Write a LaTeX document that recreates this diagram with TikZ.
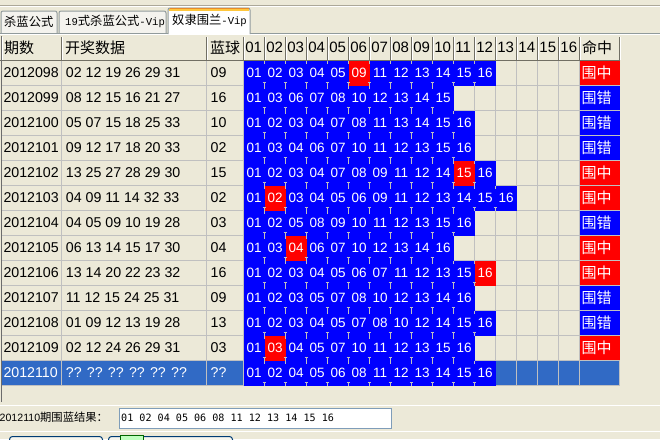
\documentclass[tikz,border=0pt]{standalone}
\usepackage{fontspec}
\setmainfont{Liberation Sans}
\newfontfamily\cjk{Noto Sans CJK SC}
\newfontfamily\monof{DejaVu Sans Mono}
\newfontfamily\courf{Liberation Mono}
\definecolor{bg}{HTML}{ECE9D8}
\definecolor{gridc}{HTML}{C0C0C0}
\definecolor{bluec}{HTML}{0000FF}
\definecolor{redc}{HTML}{FF0000}
\definecolor{selc}{HTML}{316AC5}
\definecolor{tabborder}{HTML}{919B9C}
\definecolor{tabfill}{HTML}{F4F3EE}
\definecolor{orange1}{HTML}{E68B2C}
\definecolor{orange2}{HTML}{FFC73C}
\definecolor{hdrdark}{HTML}{716F64}
\definecolor{etch}{HTML}{ACA899}
\definecolor{boxborder}{HTML}{7F9DB9}
\definecolor{btnborder}{HTML}{003C74}
\begin{document}
\begin{tikzpicture}[x=1pt,y=-1pt,
  txt/.style={inner sep=0pt,anchor=west,font=\fontsize{14.2}{16}\selectfont},
  balltxt/.style={inner sep=0pt,text=white,font=\fontsize{13.5}{15}\selectfont},
  hdrtxt/.style={inner sep=0pt,anchor=west,font=\fontsize{15}{17}\selectfont},
  hdrcjk/.style={inner sep=0pt,anchor=west,font=\cjk\fontsize{15}{17}\selectfont},
  rescjk/.style={inner sep=0pt,anchor=west,text=white,font=\cjk\fontsize{15}{17}\selectfont},
  tabtxt/.style={inner sep=0pt,anchor=west,font=\cjk\fontsize{12.3}{14}\selectfont},
  gridline/.style={draw=gridc,line width=1pt},
  tickline/.style={draw=gridc,line width=1pt},
  tabshape/.style={draw=tabborder,line width=1pt,rounded corners=2pt},
]
\useasboundingbox (0,0) rectangle (660,439);
\fill[bg] (0,0) rectangle (660,439);
% top etched line
\draw[etch,line width=1pt] (0,5.5) -- (660,5.5);
\draw[white,line width=1pt] (0,6.5) -- (660,6.5);
% tabs
\draw[tabshape,fill=tabfill] (1,33) -- (1,11) -- (57,11) -- (57,33);
\draw[tabshape,fill=tabfill] (59,33) -- (59,11) -- (166,11) -- (166,33);
\draw[tabborder,line width=1pt] (0,33.5) -- (168,33.5);
\draw[tabborder,line width=1pt] (250,33.5) -- (660,33.5);
\draw[white,line width=1pt] (0,34.5) -- (660,34.5);
\draw[tabshape,fill=white] (168,34) -- (168,8) -- (250,8) -- (250,34);
\draw[orange1,line width=1pt] (169.5,8.5) -- (248.5,8.5);
\draw[orange2,line width=1.6pt] (169,10.2) -- (249,10.2);
\node[tabtxt] (tab1) at (4,21.5) {杀蓝公式};
\node[tabtxt] (tab2) at (65,21.5) {{\courf\fontsize{10.6}{12}\selectfont 19}式杀蓝公式{\courf\fontsize{10.6}{12}\selectfont -Vip}};
\node[tabtxt] (tab3) at (172,20.8) {奴隶围兰{\courf\fontsize{10.6}{12}\selectfont -Vip}};
% header
\foreach \b in {62,207,243.7,264.7,285.7,306.7,327.7,348.7,369.7,390.7,411.7,432.7,453.7,474.7,495.7,516.7,537.7,558.7,579.7,620}{
  \draw[hdrdark,line width=1pt] (\b-0.5,37) -- (\b-0.5,60);
  \draw[white,line width=1pt] (\b+0.5,37) -- (\b+0.5,60);
}
\draw[white,line width=1pt] (2.5,37) -- (2.5,60);
\draw[hdrdark,line width=1pt] (0,60.5) -- (620,60.5);
\node[hdrcjk] (h1) at (4,48) {期数};
\node[hdrcjk] (h2) at (65,48) {开奖数据};
\node[hdrcjk] (h3) at (210,48) {蓝球};
\foreach \k [count=\i from 0] in {01,02,03,04,05,06,07,08,09,10,11,12,13,14,15,16}{
  \pgfmathsetmacro\hx{243.7+21*\i+1.5}
  \node[hdrtxt] (hc\k) at (\hx,47.5) {\k};
}
\node[hdrcjk] (h4) at (582,48) {命中};
% selected row fill
\fill[selc] (2,361) rectangle (620,386);
% grid
\foreach \b in {62,207,243.7,264.7,285.7,306.7,327.7,348.7,369.7,390.7,411.7,432.7,453.7,474.7,495.7,516.7,537.7,558.7,579.7,620}{
  \draw[gridline] (\b-0.5,61) -- (\b-0.5,386);
}
\foreach \r in {1,...,13}{
  \pgfmathsetmacro\gy{61+25*\r-0.5}
  \draw[gridline] (2,\gy) -- (620,\gy);
}
% rows
\foreach \id/\dr/\bl/\balls/\red/\hit [count=\r from 0] in {
 2012098/{02 12 19 26 29 31}/09/{01,02,03,04,05,09,11,12,13,14,15,16}/6/1,
 2012099/{08 12 15 16 21 27}/16/{01,03,06,07,08,10,12,13,14,15}/0/0,
 2012100/{05 07 15 18 25 33}/10/{01,02,03,04,07,08,11,13,14,15,16}/0/0,
 2012101/{09 12 17 18 20 33}/02/{01,03,04,06,07,10,11,12,13,15,16}/0/0,
 2012102/{13 25 27 28 29 30}/15/{01,02,03,04,07,08,09,11,12,14,15,16}/11/1,
 2012103/{04 09 11 14 32 33}/02/{01,02,03,04,05,06,09,11,12,13,14,15,16}/2/1,
 2012104/{04 05 09 10 19 28}/03/{01,02,05,08,09,10,11,12,13,15,16}/0/0,
 2012105/{06 13 14 15 17 30}/04/{01,03,04,06,07,10,12,13,14,16}/3/1,
 2012106/{13 14 20 22 23 32}/16/{01,02,03,04,05,06,07,11,12,13,15,16}/12/1,
 2012107/{11 12 15 24 25 31}/09/{01,02,03,05,07,08,10,12,13,14,16}/0/0,
 2012108/{01 09 12 13 19 28}/13/{01,02,03,04,05,07,08,10,12,14,15,16}/0/0,
 2012109/{02 12 24 26 29 31}/03/{01,03,04,05,07,10,11,12,13,15,16}/2/1,
 2012110/{?? ?? ?? ?? ?? ??}/??/{01,02,04,05,06,08,11,12,13,14,15,16}/0/2}{
  \pgfmathsetmacro\yt{61+25*\r}
  \pgfmathsetmacro\yc{\yt+11.5}
  \ifnum\hit=2 \def\tc{white}\else\def\tc{black}\fi
  \node[txt,text=\tc] (id\r) at (3.3,\yc) {\id};
  \node[txt,text=\tc] (dr\r) at (65.7,\yc) {\dr};
  \node[txt,text=\tc] (bl\r) at (210.5,\yc) {\bl};
  \foreach \bb [count=\k] in \balls {
    \pgfmathsetmacro\xa{243.7+21*(\k-1)}
    \pgfmathsetmacro\xb{\xa+21}
    \pgfmathsetmacro\yb{\yt+25}
    \ifnum\k=\red\relax \def\cc{redc}\else\def\cc{bluec}\fi
    \ifnum\k=1 \pgfmathsetmacro\xa{\xa+0.5}\fi
    \fill[\cc] (\xa,\yt-0.5) rectangle (\xb,\yb);
  }
  \foreach \bb [count=\k] in \balls {
    \pgfmathsetmacro\xa{243.7+21*(\k-1)}
    \ifnum\k>1
      \draw[tickline] (\xa-0.5,\yt) -- ++(0,3);
      \draw[tickline] (\xa-0.5,\yt+21) -- ++(0,4);
      \draw[tickline] (\xa-2,\yt+21.5) -- ++(3,0);
    \fi
    \node[balltxt] (b\r-\k) at (\xa+10.5,\yc) {\bb};
  }
  \ifnum\hit=1
    \fill[redc] (580.2,\yt) rectangle (619.5,\yt+24);
    \node[rescjk] (res\r) at (581.5,\yt+12) {围中};
  \fi
  \ifnum\hit=0
    \fill[bluec] (580.2,\yt) rectangle (619.5,\yt+24);
    \node[rescjk] (res\r) at (581.5,\yt+12) {围错};
  \fi
}
% left border of list
\draw[gray!85!black,line width=1pt] (1.5,36) -- (1.5,402);
% bottom separators
\draw[white,line width=1pt] (0,405.5) -- (660,405.5);
\draw[white,line width=1pt] (0,431.5) -- (660,431.5);
% result label and box
\node[inner sep=0pt,anchor=west] (lbl) at (-0.5,417) {{\fontsize{10.6}{12}\selectfont 2012110}{\cjk\fontsize{11.3}{13}\selectfont 期围蓝结果：}};
\node[draw=boxborder,line width=1pt,fill=white,minimum width=272pt,minimum height=20pt,anchor=north west,inner sep=0pt] (box) at (118.5,408) {};
\node[inner sep=0pt,anchor=west,font=\monof\fontsize{10.1}{12}\selectfont] (boxtxt) at (121,417.5) {01 02 04 05 06 08 11 12 13 14 15 16};
% buttons (tops only)
\begin{scope}
\clip (0,0) rectangle (660,439);
\draw[btnborder,line width=1pt,fill=white!60!bg,rounded corners=3pt] (9.5,436.5) rectangle (102.5,450);
\draw[btnborder,line width=1pt,fill=white!60!bg,rounded corners=3pt] (108.5,436.5) rectangle (232.5,450);
\draw[green!40!black,line width=0.8pt,fill=green!25!white] (120.5,435.5) rectangle (143,450);
\end{scope}
\end{tikzpicture}
\end{document}
